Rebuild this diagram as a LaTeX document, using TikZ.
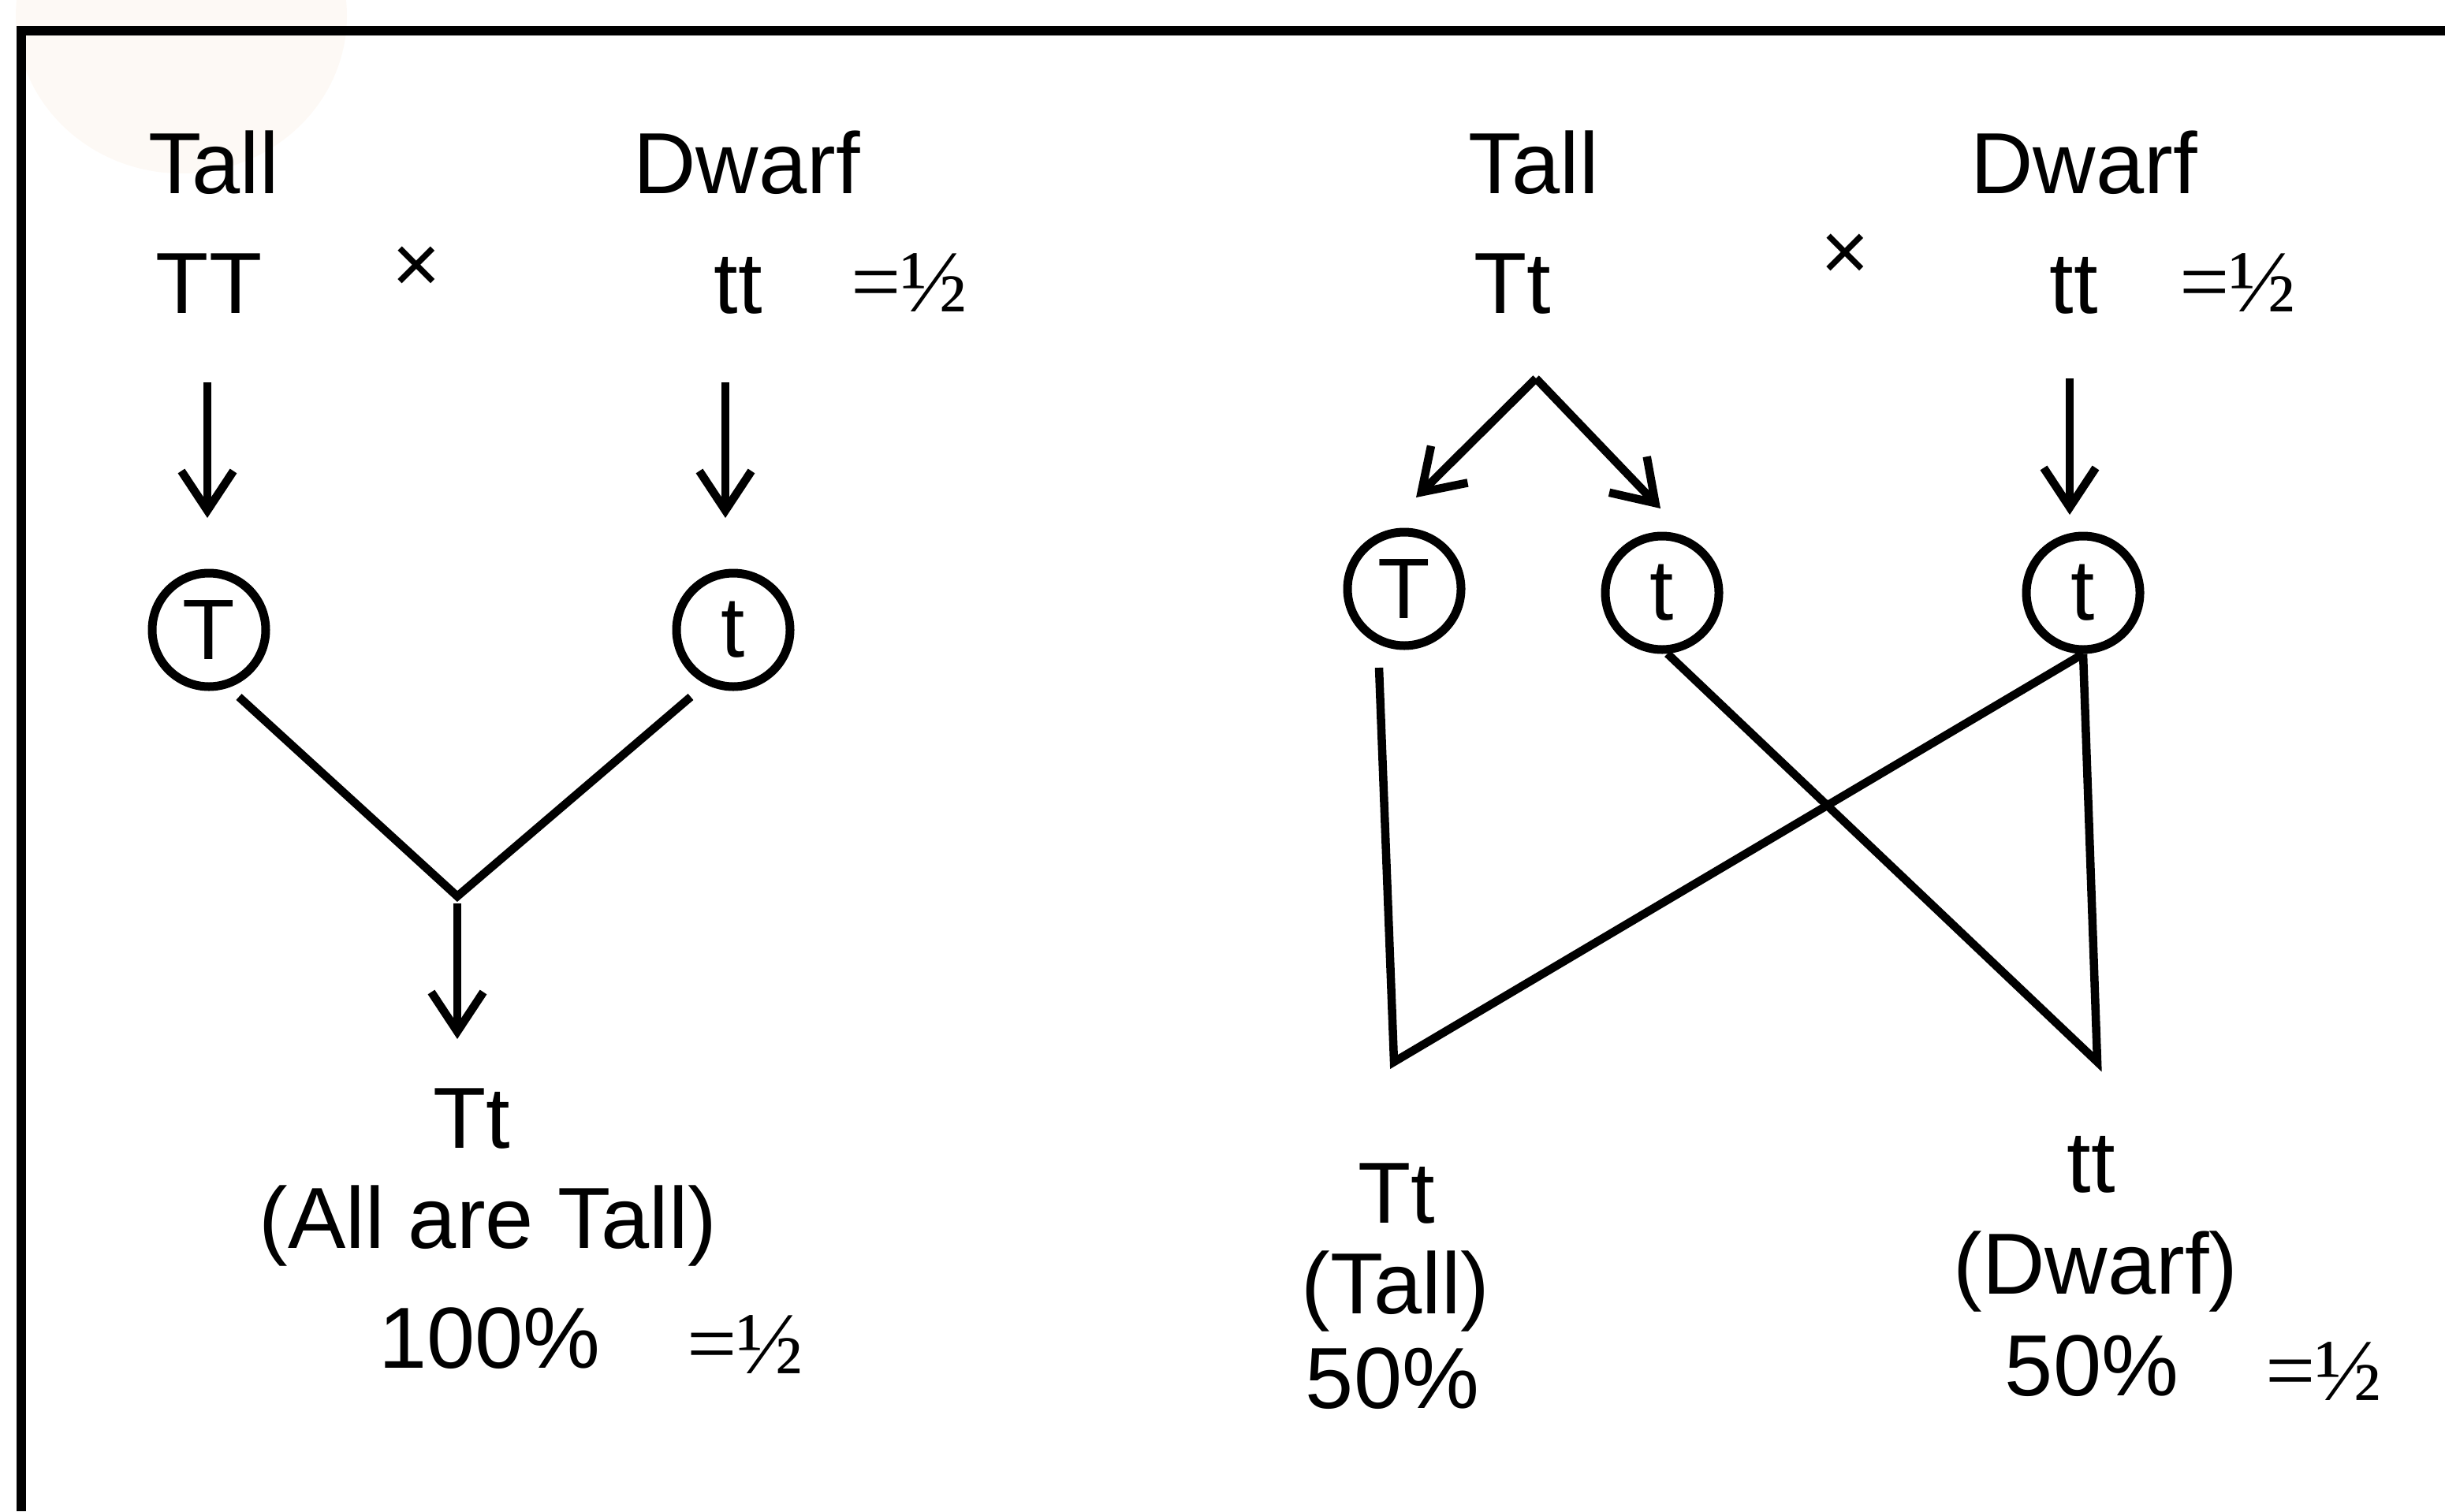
\documentclass[tikz,border=0pt]{standalone}
\usepackage{fontspec}
\setmainfont{Liberation Sans}
\newfontfamily\serifhalf{Liberation Serif}
\usetikzlibrary{arrows.meta}

\begin{document}
\begin{tikzpicture}[
		line width=0.105cm,
		every node/.style={inner sep=0pt, font=\fontsize{31.3}{36}\selectfont},
		word/.style={anchor=base},
		half/.style={anchor=base, font=\fontsize{32}{36}\selectfont\serifhalf},
		times/.style={font=\fontsize{30}{34}\selectfont},
		allele/.style={circle, draw, line width=0.11cm, minimum size=1.44cm, font=\fontsize{31}{34}\selectfont},
		arr/.style={-{Straight Barb[length=0.5cm, width=0.66cm]}}
	]
  \useasboundingbox (0,0) rectangle (31.01,-19.17);
  \fill[color={rgb,255:red,253;green,249;blue,245}] (2.3,-0.2) ellipse (2.1cm and 2.0cm);
  \draw[line width=0.12cm] (0.27,-19.17) -- (0.27,-0.39) -- (31.01,-0.39);

  % left cross
  \node (tall_a) [word] at (2.71cm, -2.45cm) {Tall};
  \node (TT) [word] at (2.65cm, -3.97cm) {TT};
  \node (x_a) [times] at (5.28cm, -3.42cm) {×};
  \node (dwarf_a) [word] at (9.47cm, -2.45cm) {Dwarf};
  \node (tt_a) [word] at (9.36cm, -3.97cm) {tt};
  \node (half_a) [half] at (11.53cm, -3.95cm) {=½};
  \node (T_a) [allele] at (2.65cm, -7.99cm) {T};
  \node (t_a) [allele] at (9.30cm, -7.99cm) {t};
  \coordinate (p_1) at (2.63cm, -4.85cm);
  \coordinate (q_1) at (2.63cm, -6.57cm);
  \coordinate (p_2) at (9.20cm, -4.85cm);
  \coordinate (q_2) at (9.20cm, -6.57cm);
  \coordinate (s_1) at (3.03cm, -8.84cm);
  \coordinate (s_2) at (8.76cm, -8.84cm);
  \coordinate (v_1) at (5.80cm, -11.37cm);
  \coordinate (p_3) at (5.80cm, -11.46cm);
  \coordinate (q_3) at (5.80cm, -13.18cm);
  \node (Tt_a) [word] at (5.98cm, -14.56cm) {Tt};
  \node (all) [word] at (6.19cm, -15.83cm) {(All are Tall)};
  \node (pc_a) [word] at (6.21cm, -17.35cm) {100\%};
  \node (half_b) [half] at (9.45cm, -17.42cm) {=½};
  \draw[arr] (p_1) -- (q_1);
  \draw[arr] (p_2) -- (q_2);
  \draw (s_1) -- (v_1) -- (s_2);
  \draw[arr] (p_3) -- (q_3);

  % right cross
  \node (tall_b) [word] at (19.45cm, -2.45cm) {Tall};
  \node (Tt_b) [word] at (19.18cm, -3.97cm) {Tt};
  \node (x_b) [times] at (23.40cm, -3.26cm) {×};
  \node (dwarf_b) [word] at (26.43cm, -2.45cm) {Dwarf};
  \node (tt_b) [word] at (26.30cm, -3.97cm) {tt};
  \node (half_c) [half] at (28.38cm, -3.95cm) {=½};
  \node (T_b) [allele] at (17.81cm, -7.47cm) {T};
  \node (t_b) [allele] at (21.08cm, -7.52cm) {t};
  \node (t_c) [allele] at (26.42cm, -7.52cm) {t};
  \coordinate (split) at (19.48cm, -4.80cm);
  \coordinate (q_4) at (17.96cm, -6.31cm);
  \coordinate (q_5) at (21.06cm, -6.45cm);
  \coordinate (p_6) at (26.25cm, -4.80cm);
  \coordinate (q_6) at (26.25cm, -6.53cm);
  \coordinate (s_3) at (17.49cm, -8.47cm);
  \coordinate (v_2) at (17.68cm, -13.47cm);
  \coordinate (v_3) at (26.60cm, -13.47cm);
  \node (Tt_c) [word] at (17.71cm, -15.51cm) {Tt};
  \node (tall_c) [word] at (17.70cm, -16.66cm) {(Tall)};
  \node (pc_b) [word] at (17.66cm, -17.86cm) {50\%};
  \node (tt_c) [word] at (26.52cm, -15.12cm) {tt};
  \node (dwarf_c) [word] at (26.58cm, -16.41cm) {(Dwarf)};
  \node (pc_c) [word] at (26.53cm, -17.70cm) {50\%};
  \node (half_d) [half] at (29.47cm, -17.76cm) {=½};
  \draw[arr] (split) -- (q_4);
  \draw[arr] (split) -- (q_5);
  \draw[arr] (p_6) -- (q_6);
  \draw (s_3) -- (v_2) -- (t_c.south);
  \draw (t_b.-85) -- (v_3) -- (t_c.south);
\end{tikzpicture}
\end{document}
